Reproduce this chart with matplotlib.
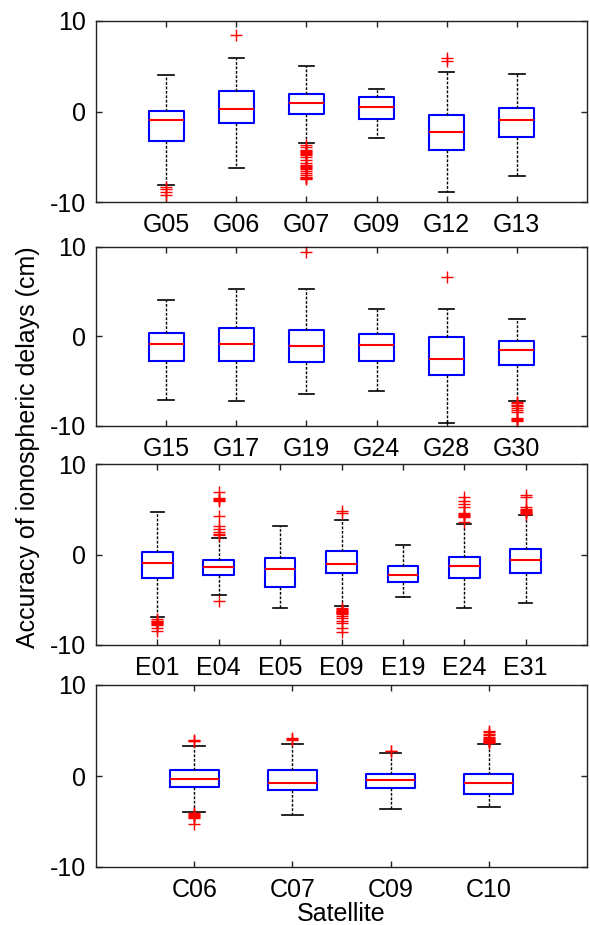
import matplotlib
matplotlib.use('Agg')
import matplotlib.pyplot as plt

plt.rcParams['font.family'] = ['Liberation Sans', 'DejaVu Sans']
plt.rcParams['axes.unicode_minus'] = False

# ---------------- data (cm) ----------------
gps1_labels = ['G05', 'G06', 'G07', 'G09', 'G12', 'G13']
gps1_q1 = [-3.3, -1.27, -0.24, -0.8, -4.2, -2.78]
gps1_med = [-0.9, 0.3, 0.94, 0.53, -2.27, -0.9]
gps1_q3 = [0.1, 2.3, 1.9, 1.57, -0.42, 0.35]
gps1_lo = [-8.1, -6.2, -3.45, -2.96, -8.86, -7.13]
gps1_hi = [4.0, 5.95, 5.06, 2.5, 4.4, 4.14]
gps1_out = [[-8.3, -8.6, -8.9, -9.2],
            [8.4],
            [-3.7, -3.9, -4.2, -4.4, -4.5, -4.6, -4.7, -4.8, -5.0, -5.4, -5.7, -5.9,
             -6.0, -6.1, -6.2, -6.4, -6.6, -6.8, -7.0, -7.2, -7.3, -7.4, -7.5],
            [],
            [5.6, 5.9],
            []]

gps2_labels = ['G15', 'G17', 'G19', 'G24', 'G28', 'G30']
gps2_q1 = [-2.77, -2.73, -2.88, -2.7, -4.26, -3.18]
gps2_med = [-0.87, -0.83, -1.1, -1.0, -2.47, -1.47]
gps2_q3 = [0.36, 0.95, 0.77, 0.25, -0.05, -0.5]
gps2_lo = [-7.13, -7.24, -6.46, -6.05, -9.7, -7.24]
gps2_hi = [4.12, 5.27, 5.27, 3.1, 3.04, 1.96]
gps2_out = [[], [], [9.4], [], [6.7],
            [-7.3, -7.4, -7.6, -7.8, -8.0, -8.2, -8.4, -9.1, -9.2, -9.3, -9.4]]

gal_labels = ['E01', 'E04', 'E05', 'E09', 'E19', 'E24', 'E31']
gal_q1 = [-2.6, -2.3, -3.63, -2.08, -3.04, -2.63, -2.08]
gal_med = [-0.9, -1.35, -1.6, -1.05, -2.3, -1.27, -0.64]
gal_q3 = [0.31, -0.57, -0.35, 0.43, -1.27, -0.24, 0.6]
gal_lo = [-6.87, -4.48, -5.87, -5.65, -4.73, -5.95, -5.4]
gal_hi = [4.73, 1.79, 3.18, 3.8, 1.0, 3.37, 4.4]
gal_out = [[-7.1, -7.3, -7.4, -7.5, -7.6, -7.7, -7.8, -8.1, -8.4],
           [6.9, 6.2, 6.1, 6.0, 5.95, 4.2, 3.2, 2.8, 2.5, 2.3, 2.1, -5.1],
           [],
           [4.8, 4.6, -5.9, -6.0, -6.1, -6.2, -6.3, -6.4, -6.5, -6.6, -6.8, -7.0,
            -7.3, -7.6, -8.1, -8.6],
           [],
           [6.3, 5.9, 5.6, 5.3, 4.6, 4.5, 4.4, 4.3, 4.1, 3.6],
           [6.6, 6.3, 5.2, 5.0, 4.9, 4.8, 4.7, 4.6, 4.5]]

bds_labels = ['C06', 'C07', 'C09', 'C10']
bds_q1 = [-1.23, -1.53, -1.34, -1.97]
bds_med = [-0.32, -0.72, -0.39, -0.72]
bds_q3 = [0.64, 0.64, 0.27, 0.2]
bds_lo = [-3.99, -4.32, -3.66, -3.44]
bds_hi = [3.3, 3.57, 2.58, 3.47]
bds_out = [[3.8, 3.9, 4.0, -4.1, -4.2, -4.3, -4.4, -4.5, -4.6, -5.3],
           [4.0, 4.1, 4.2],
           [2.7, 2.8],
           [3.6, 3.7, 3.8, 3.9, 4.0, 4.1, 4.2, 4.3, 4.5, 4.6, 4.8, 5.0]]

panels = [
    (gps1_labels, gps1_q1, gps1_med, gps1_q3, gps1_lo, gps1_hi, gps1_out),
    (gps2_labels, gps2_q1, gps2_med, gps2_q3, gps2_lo, gps2_hi, gps2_out),
    (gal_labels, gal_q1, gal_med, gal_q3, gal_lo, gal_hi, gal_out),
    (bds_labels, bds_q1, bds_med, bds_q3, bds_lo, bds_hi, bds_out),
]

# ---------------- layout ----------------
W, H = 590, 925
fig = plt.figure(figsize=(W / 100, H / 100), dpi=100)
axes_px = [(21, 202), (247, 426), (464, 645), (685, 867)]
left_px, width_px = 96, 491
fs = 18

for i, ((labels, q1, med, q3, lo, hi, out), (top, bot)) in enumerate(zip(panels, axes_px)):
    ax = fig.add_axes([left_px / W, 1 - bot / H, width_px / W, (bot - top) / H])
    stats = [dict(label=l, q1=a, med=m, q3=b, whislo=d, whishi=u, fliers=f)
             for l, a, m, b, d, u, f in zip(labels, q1, med, q3, lo, hi, out)]
    n = len(labels)
    art = ax.bxp(stats, positions=list(range(1, n + 1)), widths=0.5, capwidths=0.22,
                 showfliers=True,
                 boxprops=dict(color='#0000ff', lw=1.5),
                 medianprops=dict(color='#ff0000', lw=1.5),
                 whiskerprops=dict(color='k', lw=1.0, linestyle=(0, (2, 1.2))),
                 capprops=dict(color='k', lw=1.2),
                 flierprops=dict(marker='+', markeredgecolor='#ff0000', markersize=9,
                                 markeredgewidth=1.0, linestyle='none'))
    for fl in art['fliers']:
        fl.set_clip_on(False)
    ax.set_xlim(0, n + 1)
    ax.set_ylim(-10, 10)
    ax.set_yticks([-10, 0, 10])
    ax.set_xticks(list(range(1, n + 1)))
    ax.set_xticklabels(labels)
    ax.tick_params(direction='in', top=True, right=True, labelsize=fs, length=4,
                   width=1, color='#222222')
    ax.tick_params(axis='x', pad=8)
    ax.tick_params(axis='y', pad=7)
    for sp in ax.spines.values():
        sp.set_color('#222222')
        sp.set_linewidth(1.0)
    if i == 3:
        ax.set_xlabel('Satellite', fontsize=fs, labelpad=0)

fig.text(28 / W, 1 - 447 / H, 'Accuracy of ionospheric delays (cm)', rotation=90,
         ha='center', va='center', fontsize=fs)

fig.savefig('out.png', dpi=100)
